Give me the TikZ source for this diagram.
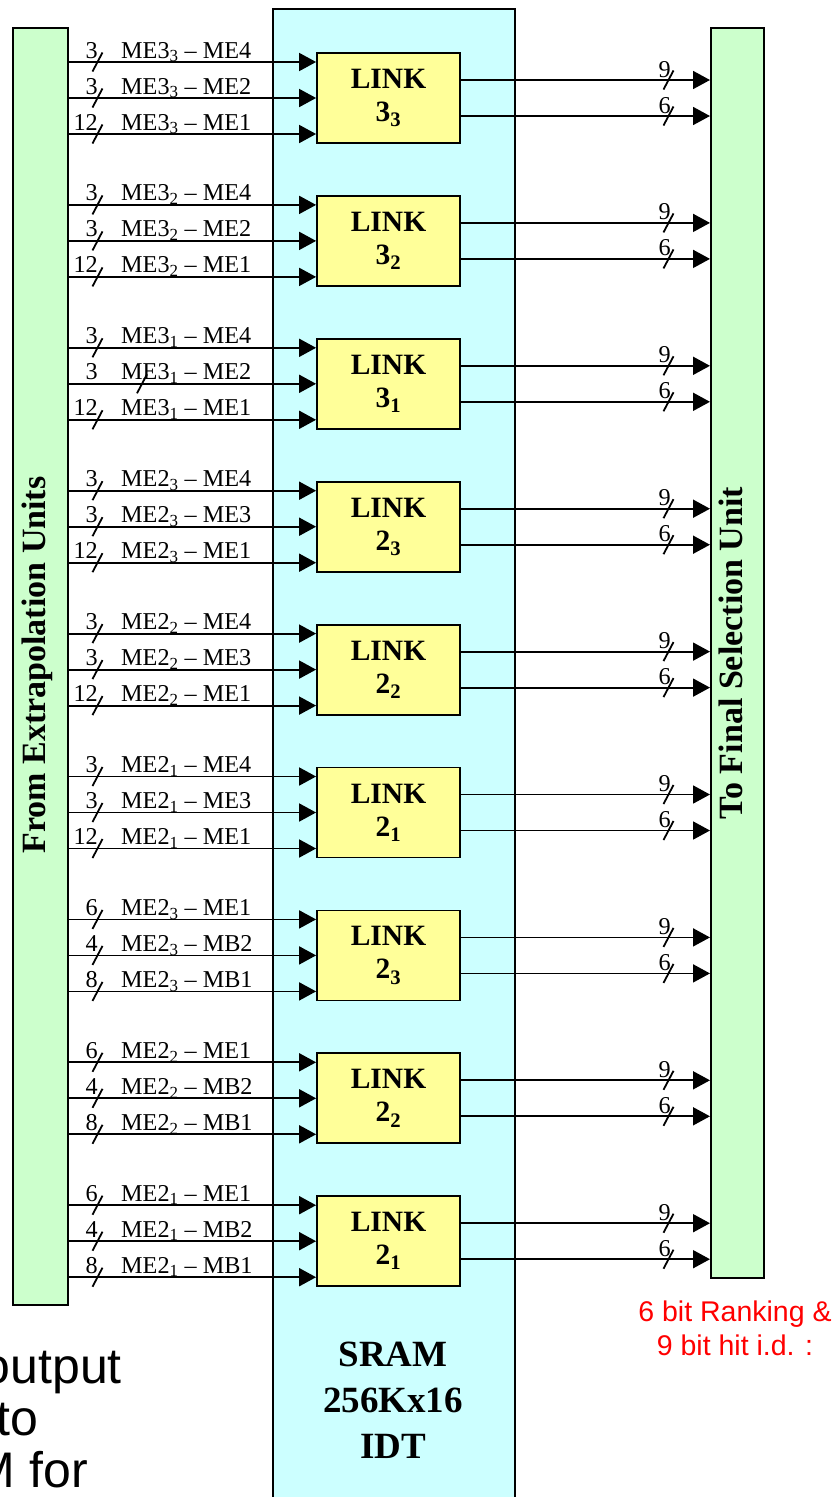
\documentclass[tikz,border=0pt]{standalone}
\usepackage{fontspec}
\setmainfont{Liberation Serif}
\newfontfamily\arialf{Liberation Sans}
\usetikzlibrary{arrows.meta}
\definecolor{barGreen}{HTML}{CCFFCC}
\definecolor{sramCyan}{HTML}{CCFFFF}
\definecolor{linkYellow}{HTML}{FFFF99}
\begin{document}
\begin{tikzpicture}[x=1pt,y=-1pt,
  conn/.style={line width=1.8pt,-{Triangle[length=17pt,width=18pt]}},
  slashln/.style={line width=1.8pt},
  bar/.style={draw,line width=1.8pt,fill=barGreen,anchor=north west,inner sep=0pt},
  linkbox/.style={draw,line width=1.8pt,fill=linkYellow,minimum width=143pt,minimum height=90pt,
    inner sep=0pt,align=center,font=\bfseries\fontsize{29.5}{33}\selectfont},
  lab/.style={inner sep=0pt,font=\fontsize{24.2}{28}\selectfont},
  vlab/.style={rotate=90,anchor=base,inner sep=0pt,font=\bfseries\fontsize{34}{40}\selectfont},
  big/.style={inner sep=0pt,anchor=base east,font=\arialf\fontsize{50}{56}\selectfont}]
\useasboundingbox (0,0) rectangle (838,1497);
\fill[white] (0,0) rectangle (838,1497);
\clip (0,0) rectangle (838,1497);
% big boxes
\node[draw,line width=1.8pt,fill=sramCyan,anchor=north west,inner sep=0pt,
      minimum width=242pt,minimum height=1530pt] (sram) at (272,8) {};
\node[bar,minimum width=55pt,minimum height=1277pt] (src) at (12,27) {};
\node[bar,minimum width=53pt,minimum height=1250pt] (dst) at (710,27) {};
\node[vlab] (srctxt) at (45,665) {From Extrapolation Units};
\node[vlab] (dsttxt) at (742,653) {To Final Selection Unit};
\node[align=center,inner sep=0pt,font=\bfseries\fontsize{37}{46}\selectfont] (sramtxt) at (393,1400) {SRAM\\256Kx16\\IDT};
% link units
\foreach \i/\mj/\mn/\la/\lb/\lc/\na/\nb/\nc in {
  0/3/3/ME4/ME2/ME1/3/3/12,
  1/3/2/ME4/ME2/ME1/3/3/12,
  2/3/1/ME4/ME2/ME1/3/3/12,
  3/2/3/ME4/ME3/ME1/3/3/12,
  4/2/2/ME4/ME3/ME1/3/3/12,
  5/2/1/ME4/ME3/ME1/3/3/12,
  6/2/3/ME1/MB2/MB1/6/4/8,
  7/2/2/ME1/MB2/MB1/6/4/8,
  8/2/1/ME1/MB2/MB1/6/4/8}{
  \pgfmathsetmacro\cy{98+142.9*\i}
  \node[linkbox] (L\i) at (388.5,\cy) {LINK\\\mj\textsubscript{\mn}};
  \foreach \k/\lab/\num [count=\kk] in {-36/\la/\na,0/\lb/\nb,36/\lc/\nc}{
    \pgfmathsetmacro\yy{\cy+\k}
    \pgfmathsetmacro\sx{(\i==2 && \kk==2) ? 142 : 97.5}
    \coordinate (ya\i-\kk) at (0,\yy);
    \draw[conn] (src.east |- ya\i-\kk) -- (L\i.west |- ya\i-\kk);
    \draw[slashln] (\sx-5,\yy+9.5) -- (\sx+5,\yy-9.5);
    \node[lab,anchor=base east] (n\i-\kk) at (98,\yy-4) {\num};
    \node[lab,anchor=base west] (m\i-\kk) at (121,\yy-4) {ME\mj\textsubscript{\mn} – \lab};
  }
  \foreach \k/\num [count=\kk] in {-18/9,18/6}{
    \pgfmathsetmacro\yo{\cy+\k}
    \coordinate (yo\i-\kk) at (0,\yo);
    \draw[conn] (L\i.east |- yo\i-\kk) -- (dst.west |- yo\i-\kk);
    \draw[slashln] (663.5,\yo+9.5) -- (673.5,\yo-9.5);
    \node[lab,anchor=base east] (w\i-\kk) at (671,\yo-3) {\num};
  }
}
% notes
\node[align=center,inner sep=0pt,text=red,font=\arialf\fontsize{28.5}{34}\selectfont] (note) at (735,1328.5) {6 bit Ranking \&\\9 bit hit i.d. :};
\node[big] (t1) at (122,1383) {output};
\node[big] (t2) at (38,1435) {to};
\node[big] (t3) at (88,1487) {M for};
\end{tikzpicture}
\end{document}
